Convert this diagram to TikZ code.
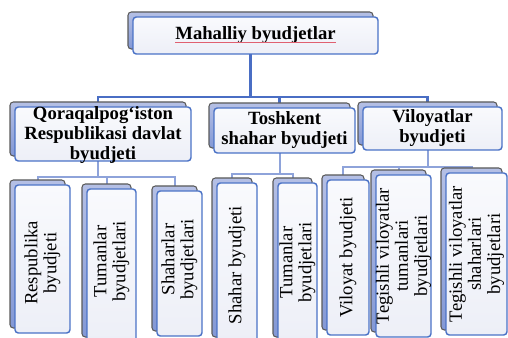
\documentclass[tikz,border=0pt]{standalone}
\usepackage{fontspec}
\setmainfont{Liberation Serif}
\usetikzlibrary{backgrounds}
\definecolor{frontline}{HTML}{4A72C6}
\definecolor{fronttop}{HTML}{F9FAFD}
\definecolor{frontbot}{HTML}{EDEFF7}
\definecolor{backtop}{HTML}{B5C0E5}
\definecolor{backbot}{HTML}{8398D5}
\definecolor{backline}{HTML}{5A5A5A}
\definecolor{connA}{HTML}{4A6EC4}
\definecolor{connB}{HTML}{8EA3DA}
\definecolor{squig}{HTML}{E06070}
\tikzset{
  frontbox/.style={draw=frontline, line width=1.1pt, rounded corners=2.5pt,
    top color=fronttop, bottom color=frontbot, inner sep=0pt, outer sep=0pt},
  backbox/.style={draw=backline, line width=0.8pt, rounded corners=2.5pt,
    top color=backtop, bottom color=backbot, inner sep=0pt, outer sep=0pt},
  bigtext/.style={font=\fontsize{14}{15}\selectfont\bfseries, align=center, inner sep=0pt},
  vtext/.style={font=\fontsize{14}{14.3}\selectfont, align=center, inner sep=0pt, rotate=90},
  connone/.style={draw=connA, line width=1.8pt},
  conntwo/.style={draw=connB, line width=1.5pt},
}
% #1 name, #2 x1, #3 y1, #4 x2, #5 y2 (front box, px, y down)
\newcommand\dbox[5]{%
  \pgfmathsetmacro\bw{(#4-#2)*0.75}%
  \pgfmathsetmacro\bh{(#5-#3)*0.75}%
  \pgfmathsetmacro\bcx{(#2+#4)/2}%
  \pgfmathsetmacro\bcy{(#3+#5)/2}%
  \node[backbox, minimum width=\bw pt, minimum height=\bh pt] (#1b) at (\bcx-5,\bcy-5) {};
  \node[frontbox, minimum width=\bw pt, minimum height=\bh pt] (#1) at (\bcx,\bcy) {};
}
\begin{document}
\begin{tikzpicture}[x=0.75pt,y=-0.75pt]
\useasboundingbox (0,0) rectangle (508,338);
% boxes
\dbox{top}{133}{17}{378}{54}
\dbox{Q}{15}{107}{191}{161}
\dbox{T}{214}{108}{355}{153}
\dbox{V}{363}{107}{502}{150}
\dbox{resp}{15}{185}{70}{333}
\dbox{tumA}{87}{189}{136}{342}
\dbox{shah}{157}{191}{202}{336}
\dbox{shb}{217}{183}{257}{342}
\dbox{tumB}{278}{183}{317}{342}
\dbox{vilb}{327}{180}{369}{335}
\dbox{tegT}{376}{175}{431}{337}
\dbox{tegS}{446}{173}{507}{335}
% texts
\node[bigtext] (topt) at (top) {Mahalliy byudjetlar};
\draw[squig, line width=0.5pt] ([yshift=-1.6pt]topt.base west) -- ([yshift=-1.6pt]topt.base east);
\node[bigtext] (Qt) at ([yshift=-1pt]Q.center) {Qoraqalpog‘iston\\Respublikasi davlat\\byudjeti};
\node[bigtext] (Tt) at (T) {Toshkent\\shahar byudjeti};
\node[bigtext] (Vt) at (V) {Viloyatlar\\byudjeti};
\node[vtext] (respt) at ([yshift=-3pt]resp.center) {Respublika\\byudjeti};
\node[vtext] (tumAt) at ([yshift=3pt]tumA.center) {Tumanlar\\byudjetlari};
\node[vtext] (shaht) at ([yshift=3pt]shah.center) {Shaharlar\\byudjetlari};
\node[vtext] (shbt) at ([yshift=-2pt]shb.center) {Shahar byudjeti};
\node[vtext] (tumBt) at (tumB) {Tumanlar\\byudjetlari};
\node[vtext] (vilbt) at (vilb) {Viloyat byudjeti};
\node[vtext] (tegTt) at (tegT) {Tegishli viloyatlar\\tumanlari\\byudjetlari};
\node[vtext] (tegSt) at (tegS) {Tegishli viloyatlar\\shaharlari\\byudjetlari};
% connectors
\begin{pgfonlayer}{background}
\coordinate (busM) at (0,97);
\coordinate (busQ) at (0,177);
\coordinate (busT) at (0,174);
\coordinate (busV) at (0,167);
\draw[connone] (topb.center) -- (topb.center |- busM) -| (Qb.center);
\draw[connone] (topb.center |- busM) -| (Tb.center);
\draw[connone] (topb.center |- busM) -| (Vb.center);
\draw[conntwo] (Qb.center) -- (Qb.center |- busQ) -| (respb.center);
\draw[conntwo] (Qb.center |- busQ) -| (tumAb.center);
\draw[conntwo] (Qb.center |- busQ) -| (shahb.center);
\draw[conntwo] (Tb.center) -- (Tb.center |- busT) -| (shbb.center);
\draw[conntwo] (Tb.center |- busT) -| (tumBb.center);
\draw[conntwo] (Vb.center) -- (Vb.center |- busV) -| (vilbb.center);
\draw[conntwo] (Vb.center |- busV) -| (tegTb.center);
\draw[conntwo] (Vb.center |- busV) -| (tegSb.center);
\end{pgfonlayer}
\end{tikzpicture}
\end{document}
